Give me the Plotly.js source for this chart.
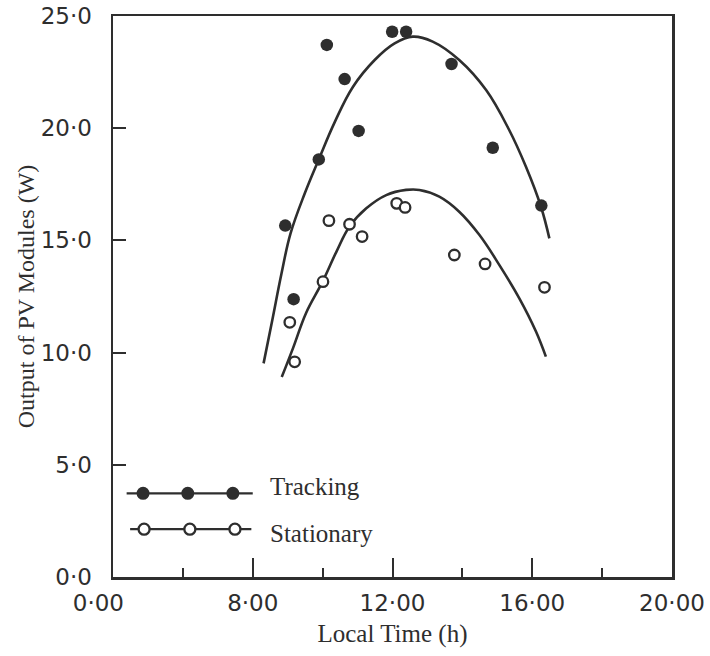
<!DOCTYPE html>
<html>
<head>
<meta charset="utf-8">
<script src="https://cdn.plot.ly/plotly-3.0.1.min.js"></script>
<style>html,body{margin:0;padding:0;background:#fff;}#chart{width:710px;height:656px;}</style>
</head>
<body>
<div id="chart"></div>
<script>
// Measured points (local time in hours, output in W)
const trackingTime = [8.93, 9.17, 9.89, 10.12, 10.63, 11.03, 11.99, 12.39, 13.69, 14.87, 16.26];
const trackingOutput = [15.66, 12.38, 18.61, 23.71, 22.19, 19.88, 24.30, 24.30, 22.86, 19.13, 16.55];
const stationaryTime = [9.06, 9.20, 10.01, 10.18, 10.77, 11.13, 12.12, 12.36, 13.77, 14.65, 16.35];
const stationaryOutput = [11.35, 9.59, 13.16, 15.88, 15.72, 15.17, 16.65, 16.47, 14.35, 13.95, 12.91];

// Fitted curves
const trackingCurveTime = [8.31, 8.56, 8.82, 9.08, 9.49, 9.89, 10.34, 10.87, 11.49, 12.06, 12.58, 13.15, 13.91, 14.68, 15.34, 15.82, 16.25, 16.49];
const trackingCurveOutput = [9.52, 11.45, 13.50, 15.30, 17.10, 18.61, 20.25, 21.85, 23.04, 23.78, 24.08, 23.86, 23.04, 21.70, 19.92, 18.28, 16.50, 15.09];
const stationaryCurveTime = [8.83, 9.15, 9.53, 9.99, 10.39, 10.77, 11.25, 11.82, 12.39, 12.77, 13.34, 13.91, 14.49, 15.06, 15.63, 16.11, 16.39];
const stationaryCurveOutput = [8.91, 10.19, 11.78, 13.14, 14.48, 15.62, 16.43, 17.02, 17.25, 17.25, 16.95, 16.28, 15.24, 13.90, 12.42, 10.93, 9.82];

// Axis ticks
const xTickVals = [4, 8, 12, 16, 20];
const xTickText = ['0·00\u00a0\u00a0\u00a0\u00a0', '8·00', '12·00', '16·00', '20·00'];
const xMinorVals = [6, 10, 14, 18];
const yTickVals = [0, 5, 10, 15, 20, 25];
const yTickText = ['0·0', '5·0', '10·0', '15·0', '20·0', '25·0'];

// Legend keys (drawn inside the plot, in data units)
const legendNames = ['Tracking', 'Stationary'];
const legendLineX = [[4.39, 8.0], [4.49, 7.96]];
const legendMarkerX = [[4.86, 6.14, 7.43], [4.89, 6.20, 7.49]];
const legendY = [3.73, 2.13];
const legendTextX = 8.43;
const legendTextY = [4.05, 1.95];

const ink = '#2e2e2e';
const serif = 'Liberation Serif, Times New Roman, serif';
const sans = 'DejaVu Sans, sans-serif';

const traces = [
  {x: trackingCurveTime, y: trackingCurveOutput, mode: 'lines', line: {color: ink, width: 2.6, shape: 'spline', smoothing: 1.1}, showlegend: false, hoverinfo: 'skip'},
  {x: stationaryCurveTime, y: stationaryCurveOutput, mode: 'lines', line: {color: ink, width: 2.6, shape: 'spline', smoothing: 1.1}, showlegend: false, hoverinfo: 'skip'},
  {x: trackingTime, y: trackingOutput, mode: 'markers', marker: {symbol: 'circle', size: 12.5, color: ink}, showlegend: false},
  {x: stationaryTime, y: stationaryOutput, mode: 'markers', marker: {symbol: 'circle', size: 10.5, color: '#ffffff', line: {width: 2.3, color: ink}}, showlegend: false},
  // legend keys
  {x: legendLineX[0], y: [legendY[0], legendY[0]], mode: 'lines', line: {color: ink, width: 2.2}, showlegend: false, hoverinfo: 'skip'},
  {x: legendMarkerX[0], y: legendMarkerX[0].map(() => legendY[0]), mode: 'markers', marker: {symbol: 'circle', size: 13, color: ink}, showlegend: false, hoverinfo: 'skip'},
  {x: legendLineX[1], y: [legendY[1], legendY[1]], mode: 'lines', line: {color: ink, width: 2.2}, showlegend: false, hoverinfo: 'skip'},
  {x: legendMarkerX[1], y: legendMarkerX[1].map(() => legendY[1]), mode: 'markers', marker: {symbol: 'circle', size: 11, color: '#ffffff', line: {width: 2.3, color: ink}}, showlegend: false, hoverinfo: 'skip'}
];

const layout = {
  width: 710, height: 656,
  margin: {l: 113, r: 38, t: 16, b: 79},
  paper_bgcolor: '#ffffff', plot_bgcolor: '#ffffff',
  showlegend: false,
  xaxis: {
    range: [4, 20], showgrid: false, zeroline: false,
    showline: true, linecolor: ink, linewidth: 2.5, mirror: true,
    tickmode: 'array', tickvals: xTickVals, ticktext: xTickText,
    ticks: 'inside', ticklen: 19, tickwidth: 2, tickcolor: ink,
    ticklabelstandoff: 4,
    minor: {tickmode: 'array', tickvals: xMinorVals, ticks: 'inside', ticklen: 9, tickwidth: 2, tickcolor: ink, showgrid: false},
    tickfont: {family: sans, size: 23, color: ink},
    title: {text: 'Local Time (h)', font: {family: serif, size: 25, color: ink}, standoff: 10}
  },
  yaxis: {
    range: [0, 25], showgrid: false, zeroline: false,
    showline: true, linecolor: ink, linewidth: 2.5, mirror: true,
    tickmode: 'array', tickvals: yTickVals, ticktext: yTickText,
    ticks: 'inside', ticklen: 13, tickwidth: 2, tickcolor: ink,
    ticklabelstandoff: 14,
    tickfont: {family: sans, size: 23, color: ink},
    title: {text: 'Output of PV Modules (W)', font: {family: serif, size: 24, color: ink}, standoff: 0}
  },
  annotations: legendNames.map((name, i) => ({
    x: legendTextX, y: legendTextY[i], xref: 'x', yref: 'y',
    text: name, showarrow: false, xanchor: 'left', yanchor: 'middle',
    font: {family: serif, size: 25, color: ink}
  }))
};

Plotly.newPlot('chart', traces, layout, {displayModeBar: false, staticPlot: true});
</script>
</body>
</html>
